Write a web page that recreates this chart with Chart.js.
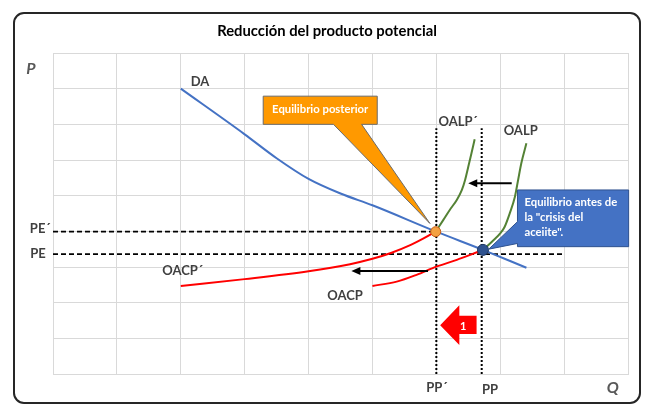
<!DOCTYPE html>
<html lang="es">
<head>
    <meta charset="UTF-8">
    <title>Reducción del producto potencial</title>
    <script src="https://cdn.jsdelivr.net/npm/chart.js"></script>
    <style>
        body { margin: 0; background: white; }
        canvas { display: block; }
    </style>
</head>
<body>
    <canvas id="chart" width="657" height="416"></canvas>

    <script>
        // curves (x = Q, y = P, grid units 0..9)
        const daX = [2.0, 3.0, 3.5, 4.0, 4.5, 5.0, 6.0, 6.73, 7.41];
        const daY = [8.0, 6.72, 6.05, 5.47, 5.06, 4.73, 3.99, 3.48, 2.98];

        const oalpPrimeX = [5.99, 6.11, 6.21, 6.32, 6.40, 6.45, 6.50, 6.55, 6.60];
        const oalpPrimeY = [3.99, 4.32, 4.60, 4.88, 5.16, 5.44, 5.81, 6.19, 6.58];
        const oalpX = [6.73, 6.87, 7.00, 7.07, 7.15, 7.23, 7.28, 7.33, 7.41];
        const oalpY = [3.48, 3.71, 3.94, 4.13, 4.51, 4.97, 5.44, 5.91, 6.47];

        const oacpPrimeX = [2.0, 3.0, 4.0, 4.65, 5.0, 5.3, 5.6, 5.8, 5.99];
        const oacpPrimeY = [2.47, 2.66, 2.88, 3.08, 3.23, 3.40, 3.62, 3.80, 3.99];
        const oacpX = [5.0, 5.38, 5.69, 6.0, 6.32, 6.53, 6.73];
        const oacpY = [2.47, 2.59, 2.78, 3.01, 3.20, 3.34, 3.48];

        // equilibrium points: after, before
        const eqX = [5.99, 6.73];
        const eqY = [3.99, 3.48];

        // reference levels
        const pePrime = 3.99;
        const pe = 3.36;
        const ppPrime = 6.0;
        const pp = 6.71;
        const ppTop = 6.89;
        const peEnd = 8.0;

        const ticks = [0, 1, 2, 3, 4, 5, 6, 7, 8, 9];

        // text labels (data coordinates)
        const labels = [
            { t: 'DA', x: 2.30, y: 8.19 },
            { t: 'OALP´', x: 6.34, y: 7.07 },
            { t: 'OALP', x: 7.32, y: 6.81 },
            { t: 'OACP´', x: 2.03, y: 2.89 },
            { t: 'OACP', x: 4.57, y: 2.19 },
            { t: 'PE´', x: -0.20, y: 4.06 },
            { t: 'PE', x: -0.235, y: 3.38 },
            { t: 'PP´', x: 6.01, y: -0.39 },
            { t: 'PP', x: 6.84, y: -0.45 }
        ];

        const zip = (xs, ys) => xs.map((x, i) => ({ x: x, y: ys[i] }));

        function curve(xs, ys, color) {
            return {
                data: zip(xs, ys), borderColor: color, borderWidth: 2,
                pointRadius: 0, showLine: true, fill: false,
                cubicInterpolationMode: 'monotone', order: 1
            };
        }

        function guide(points, dash) {
            return {
                data: points, borderColor: '#000', borderWidth: dash[0] === 2 ? 2 : 1.8,
                borderDash: dash, pointRadius: 0, showLine: true, fill: false, order: 2
            };
        }

        const LABEL_FONT = 'bold 13px Lato, "Open Sans", sans-serif';
        const BOX_FONT = 'bold 11.3px Lato, "Open Sans", sans-serif';

        const overlay = {
            id: 'overlay',
            beforeDraw(chart) {
                const c = chart.ctx;
                c.save();
                c.fillStyle = '#fff';
                c.fillRect(0, 0, chart.width, chart.height);
                c.strokeStyle = '#262626';
                c.lineWidth = 2;
                c.beginPath();
                c.roundRect(14, 13, 626, 390, 10);
                c.stroke();
                c.fillStyle = '#000';
                c.font = 'bold 14.8px Lato, "Open Sans", sans-serif';
                c.textAlign = 'center';
                c.textBaseline = 'middle';
                c.fillText('Reducción del producto potencial', 327, 31);
                c.restore();
            },
            afterDatasetsDraw(chart) {
                const c = chart.ctx;
                const sx = v => chart.scales.x.getPixelForValue(v);
                const sy = v => chart.scales.y.getPixelForValue(v);
                c.save();

                // black shift arrows
                function arrow(x1, x2, y) {
                    const a = sx(x1), b = sx(x2), yy = sy(y);
                    c.strokeStyle = '#000';
                    c.lineWidth = 2;
                    c.beginPath();
                    c.moveTo(a, yy);
                    c.lineTo(b + 6, yy);
                    c.stroke();
                    c.fillStyle = '#000';
                    c.beginPath();
                    c.moveTo(b, yy);
                    c.lineTo(b + 9, yy - 4);
                    c.lineTo(b + 9, yy + 4);
                    c.closePath();
                    c.fill();
                }
                arrow(7.18, 6.50, 5.35);
                arrow(5.87, 4.67, 2.89);

                // red block arrow "1"
                c.fillStyle = '#FF0000';
                c.beginPath();
                c.moveTo(sx(6.06), sy(1.37));
                c.lineTo(sx(6.36), sy(1.93));
                c.lineTo(sx(6.36), sy(1.63));
                c.lineTo(sx(6.63), sy(1.63));
                c.lineTo(sx(6.63), sy(1.12));
                c.lineTo(sx(6.36), sy(1.12));
                c.lineTo(sx(6.36), sy(0.81));
                c.closePath();
                c.fill();
                c.fillStyle = '#fff';
                c.font = 'bold 11px Lato, sans-serif';
                c.textAlign = 'center';
                c.textBaseline = 'middle';
                c.fillText('1', sx(6.42), sy(1.33));

                // orange callout
                let l = sx(3.29), t = sy(7.79), r = sx(5.075), b = sy(7.0);
                c.fillStyle = '#FF9900';
                c.strokeStyle = '#6b6b6b';
                c.lineWidth = 1;
                c.beginPath();
                c.moveTo(l, t);
                c.lineTo(r, t);
                c.lineTo(r, b);
                c.lineTo(sx(4.83), b);
                c.lineTo(sx(5.90), sy(4.22));
                c.lineTo(sx(4.39), b);
                c.lineTo(l, b);
                c.closePath();
                c.fill();
                c.stroke();
                c.fillStyle = '#fff';
                c.font = BOX_FONT;
                c.fillText('Equilibrio posterior', (l + r) / 2, (t + b) / 2 - 1);

                // blue callout
                l = sx(7.27); t = sy(5.16); r = sx(9.01); b = sy(3.57);
                c.fillStyle = '#4472C4';
                c.strokeStyle = '#2F528F';
                c.beginPath();
                c.moveTo(l, t);
                c.lineTo(r, t);
                c.lineTo(r, b);
                c.lineTo(l, b);
                c.lineTo(l, sy(3.66));
                c.lineTo(sx(6.82), sy(3.50));
                c.lineTo(l, sy(4.27));
                c.closePath();
                c.fill();
                c.stroke();
                c.fillStyle = '#fff';
                c.textAlign = 'left';
                ['Equilibrio antes de', 'la "crisis del', 'aceiite".'].forEach((s, i) => {
                    c.fillText(s, l + 7, t + 12 + i * 15);
                });

                // curve and level labels
                c.fillStyle = '#404040';
                c.font = LABEL_FONT;
                c.textAlign = 'center';
                labels.forEach(o => c.fillText(o.t, sx(o.x), sy(o.y)));

                c.font = 'italic bold 16px Lato, sans-serif';
                c.fillStyle = '#595959';
                c.fillText('P', sx(-0.344), sy(8.55));
                c.fillText('Q', sx(8.76), sy(-0.39));
                c.restore();
            }
        };

        const gridOpts = {
            type: 'linear', min: 0, max: 9,
            afterBuildTicks: axis => { axis.ticks = ticks.map(v => ({ value: v })); },
            ticks: { display: false },
            grid: { color: '#D9D9D9', lineWidth: 1, drawTicks: false },
            border: { display: true, color: '#D9D9D9' }
        };

        new Chart(document.getElementById('chart'), {
            type: 'scatter',
            data: {
                datasets: [
                    {
                        data: zip(eqX, eqY), pointRadius: [5, 5.5], pointBorderWidth: 1,
                        pointBackgroundColor: ['#F4A142', '#2F528F'],
                        pointBorderColor: ['#C55A11', '#1F3864'], showLine: false, order: 0
                    },
                    curve(daX, daY, '#4472C4'),
                    curve(oalpPrimeX, oalpPrimeY, '#548235'),
                    curve(oalpX, oalpY, '#548235'),
                    curve(oacpPrimeX, oacpPrimeY, '#FF0000'),
                    curve(oacpX, oacpY, '#FF0000'),
                    guide([{ x: 0, y: pePrime }, { x: ppPrime, y: pePrime }], [5, 3]),
                    guide([{ x: 0, y: pe }, { x: peEnd, y: pe }], [5, 3]),
                    guide([{ x: ppPrime, y: 0 }, { x: ppPrime, y: ppTop }], [2, 2]),
                    guide([{ x: pp, y: 0 }, { x: pp, y: ppTop }], [2, 2])
                ]
            },
            options: {
                responsive: false,
                animation: false,
                layout: { padding: { left: 53, right: 29, top: 53, bottom: 42 } },
                plugins: { legend: { display: false }, tooltip: { enabled: false } },
                scales: { x: gridOpts, y: gridOpts }
            },
            plugins: [overlay]
        });
    </script>
</body>
</html>
